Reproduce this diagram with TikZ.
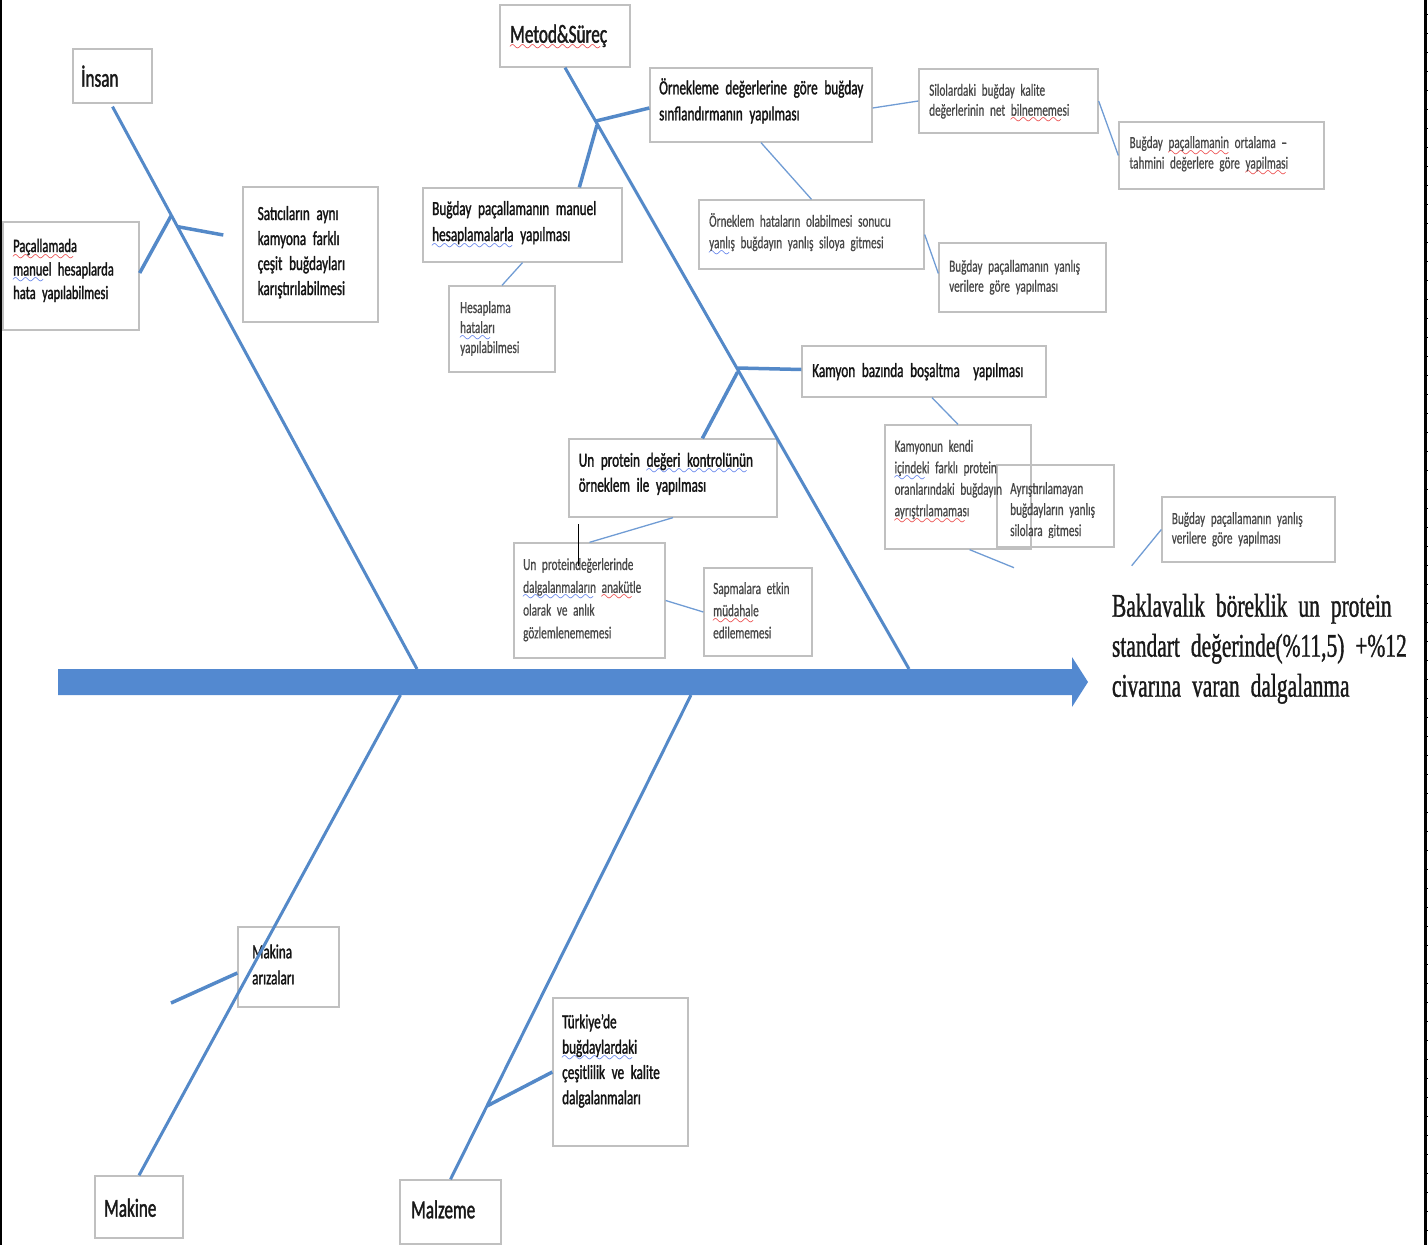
\documentclass[tikz,border=0pt]{standalone}
\usepackage{fontspec}
\setmainfont{Carlito}[FakeStretch=0.66, FakeBold=0.6]
\newfontfamily\medF{Carlito}[FakeStretch=0.66, FakeBold=1.4]
\newfontfamily\serifF{Liberation Serif}[FakeStretch=0.65, FakeBold=1]
\usetikzlibrary{fit,calc}
\definecolor{bonec}{RGB}{84,137,200}
\definecolor{arrowc}{RGB}{83,137,208}
\definecolor{twigc}{RGB}{112,156,212}
\definecolor{boxc}{RGB}{192,192,192}
\definecolor{sqred}{RGB}{230,30,30}
\definecolor{sqblue}{RGB}{60,100,230}
\font\sqfont=lasy10 at 15pt
\newcommand\sqline[2]{\setbox0=\hbox{#2}\leavevmode\rlap{\textcolor{#1}{\lower8pt\hbox to\wd0{\leaders\hbox{\sqfont\char58}\hfill}}}\box0\relax}
\newcommand\rsq[1]{\sqline{sqred}{#1}}
\newcommand\bsq[1]{\sqline{sqblue}{#1}}
\newcommand\fs[2]{\fontsize{#1}{#2}\selectfont\fontdimen2\font=0.16em\relax}
\newcommand\mkbox[5]{\coordinate (#1-a) at (#2,#3); \coordinate (#1-b) at (#4,#5); \node[bx, fit=(#1-a)(#1-b)] (#1) {};}
\tikzset{
  bx/.style={draw=boxc, line width=1.3pt, inner sep=0pt, rectangle},
  tx/.style={anchor=base west, inner sep=0pt, align=left, text width=330pt},
  sm/.style={tx, text=black!72},
  md/.style={tx, text=black!92},
  hd/.style={tx, text=black!90, font=\medF\fs{26}{30}},
  bone/.style={draw=bonec, line width=3pt},
  twig/.style={draw=bonec, line width=3.5pt},
  thinc/.style={draw=twigc, line width=1.3pt},
}
\begin{document}
\begin{tikzpicture}[x=1pt,y=-1pt]
\useasboundingbox (0,0) rectangle (1428,1245);
% page edges
\draw[black, line width=1.5pt] (0.75,0) -- (0.75,1245);
\fill[black] (1424,0) rectangle (1427,1245);
\foreach \t in {0,19,...,1245} {\draw[black, line width=0.8pt] (1427,\t+14) -- (1428,\t+14);}
% boxes
\mkbox{insan}{73}{49}{152}{103}
\mkbox{metod}{500}{5}{630}{67}
\mkbox{pac}{3}{222}{139}{330}
\mkbox{sat}{243}{187}{378}{322}
\mkbox{ornk}{650}{68}{872}{142}
\mkbox{bman}{423}{188}{622}{262}
\mkbox{hesap}{449}{286}{555}{372}
\mkbox{silo}{919}{69}{1098}{133}
\mkbox{ort}{1119}{122}{1324}{189}
\mkbox{orhat}{699}{200}{924}{269}
\mkbox{yan1}{939}{243}{1106}{312}
\mkbox{kam}{802}{346}{1046}{397}
\mkbox{kamk}{885}{425}{1031}{549}
\mkbox{ayr}{997}{465}{1114}{547}
\mkbox{yan2}{1162}{497}{1335}{562}
\mkbox{unpd}{569}{439}{777}{517}
\mkbox{unpdg}{514}{543}{665}{658}
\mkbox{sap}{704}{568}{812}{656}
\mkbox{makina}{238}{927}{339}{1007}
\mkbox{turk}{553}{998}{688}{1146}
\mkbox{makine}{95}{1176}{183}{1238}
\mkbox{malz}{400}{1180}{501}{1244}
% texts
\node[hd] (insan-t) at (81,86.7) {İnsan};
\node[hd] (metod-t) at (510,42.7) {\rsq{Metod\&Süreç}};
\node[hd] (makine-t) at (104,1216.7) {Makine};
\node[hd] (malz-t) at (411,1218.3) {Malzeme};
\node[md, font=\medF\fs{19}{23.5}] (pac-t) at (13,252) {\rsq{Paçallamada}\\\bsq{manuel} hesaplarda\\hata yapılabilmesi};
\node[md, font=\medF\fs{20}{25}] (sat-t) at (257.5,220) {Satıcıların aynı\\kamyona farklı\\çeşit buğdayları\\karıştırılabilmesi};
\node[md, font=\medF\fs{20}{26}] (ornk-t) at (659,94.3) {Örnekleme değerlerine göre buğday\\sınflandırmanın yapılması};
\node[md, font=\medF\fs{20}{26}] (bman-t) at (432,215) {Buğday paçallamanın manuel\\\bsq{hesaplamalarla} yapılması};
\node[sm, font=\fs{17}{20}] (hesap-t) at (460,313) {Hesaplama\\\bsq{hataları}\\yapılabilmesi};
\node[sm, font=\fs{17}{20}] (silo-t) at (929,95.7) {Silolardaki buğday kalite\\değerlerinin net \rsq{bilnememesi}};
\node[sm, font=\fs{17}{20.5}] (ort-t) at (1129.3,148) {Buğday \rsq{paçallamanin} ortalama –\\tahmini değerlere göre \rsq{yapilmasi}};
\node[sm, font=\fs{17}{21.5}] (orhat-t) at (709,226.7) {Örneklem hataların olabilmesi sonucu\\\bsq{yanlış} buğdayın yanlış siloya gitmesi};
\node[sm, font=\fs{17}{20}] (yan1-t) at (949,271.7) {Buğday paçallamanın yanlış\\verilere göre yapılması};
\node[md, font=\medF\fs{20}{25}] (kam-t) at (812,377) {Kamyon bazında boşaltma~ yapılması};
\node[sm, font=\fs{17}{21.5}] (kamk-t) at (894.4,451.7) {Kamyonun kendi\\\bsq{içindeki} farklı protein\\oranlarındaki buğdayın\\\rsq{ayrıştrılamaması}};
\begin{scope}
\clip (ayr-a) rectangle (1114,537);
\node[sm, font=\fs{17}{21}] (ayr-t) at (1010,494) {Ayrıştırılamayan\\buğdayların yanlış\\silolara gitmesi};
\end{scope}
\node[sm, font=\fs{17}{19.5}] (yan2-t) at (1171.6,524) {Buğday paçallamanın yanlış\\verilere göre yapılması};
\node[md, font=\medF\fs{20}{25}] (unpd-t) at (578.6,466.7) {Un protein \bsq{değeri kontrolünün}\\örneklem ile yapılması};
\node[sm, font=\fs{17}{22.8}] (unpdg-t) at (523,570) {Un proteindeğerlerinde\\\bsq{dalgalanmaların} \rsq{anakütle}\\olarak ve anlık\\gözlemlenememesi};
\node[sm, font=\fs{17}{22.2}] (sap-t) at (713,594) {Sapmalara etkin\\\rsq{müdahale}\\edilememesi};
\node[md, font=\medF\fs{20}{26}] (makina-t) at (252,958.3) {Makina\\arızaları};
\node[md, font=\medF\fs{20}{25.3}] (turk-t) at (562,1028.3) {Türkiye’de\\\bsq{buğdaylardaki}\\çeşitlilik ve kalite\\dalgalanmaları};
\node[tx, font=\serifF\fs{33}{40}, text=black!90] (title) at (1111.8,616.7) {Baklavalık böreklik un protein\\standart değerinde(\%11,5) +\%12\\civarına varan dalgalanma};
% thin connectors
\coordinate (kamkEnd) at (1014,567.7);
\coordinate (yan2End) at (1131.7,565.7);
\draw[thinc] ([yshift=-3pt]ornk.east) -- (silo.west);
\draw[thinc] (silo.east) -- (ort.west);
\draw[thinc] (ornk.south) -- (orhat.north);
\draw[thinc] (orhat.east) -- ([yshift=4pt]yan1.west);
\draw[thinc] (bman.south) -- (hesap.north);
\draw[thinc] ([xshift=8pt]kam.south) -- (kamk.north);
\draw[thinc] ([xshift=11.6pt]kamk.south) -- (kamkEnd);
\draw[thinc] (yan2.west) -- (yan2End);
\draw[thinc] (unpd.south) -- (unpdg.north);
\draw[thinc] (unpdg.east) -- (sap.west);
% cursor
\coordinate (cur1) at (578,524);
\coordinate (cur2) at (578,566);
\draw[black, line width=1pt] (cur1) -- (cur2);
% bones
\coordinate (insEnd) at (417,669);
\coordinate (metEnd) at (909,669);
\coordinate (makEnd) at (400.5,695);
\coordinate (malEnd) at (691,695);
\draw[bone] ([yshift=-3pt]insan.south) -- (insEnd);
\draw[bone] (metod.south) -- (metEnd);
\draw[bone] (makine.north) -- (makEnd);
\draw[bone] (malz.north) -- (malEnd);
% twigs
\coordinate (insJ1) at (171,216);
\coordinate (insJ2) at (177.8,226.7);
\coordinate (insR) at (223.3,235);
\coordinate (metJ1) at (596,121);
\coordinate (metJ1b) at (597,125);
\coordinate (metJ2) at (737.6,368);
\coordinate (metJ2b) at (737.6,372);
\coordinate (makL) at (171,1003);
\coordinate (malJ) at (487,1106);
\draw[twig] (insJ1) -- ([yshift=3pt]pac.east);
\draw[twig] (insJ2) -- (insR);
\draw[twig] (metJ1) -- ([yshift=-3pt]ornk.west);
\draw[twig] (metJ1b) -- ($(bman.north west)+(157,0)$);
\draw[twig] (metJ2) -- ([yshift=2pt]kam.west);
\draw[twig] (metJ2b) -- ($(unpd.north west)+(134,0)$);
\draw[twig] (makL) -- ([yshift=-6pt]makina.west);
\draw[twig] (malJ) -- (turk.west);
% spine
\coordinate (spS) at (58,682);
\coordinate (spE) at (1088,682);
\fill[arrowc] (58,669) -- (1072,669) -- (1072,657) -- (spE) -- (1072,707) -- (1072,695) -- (58,695) -- cycle;
\end{tikzpicture}
\end{document}
